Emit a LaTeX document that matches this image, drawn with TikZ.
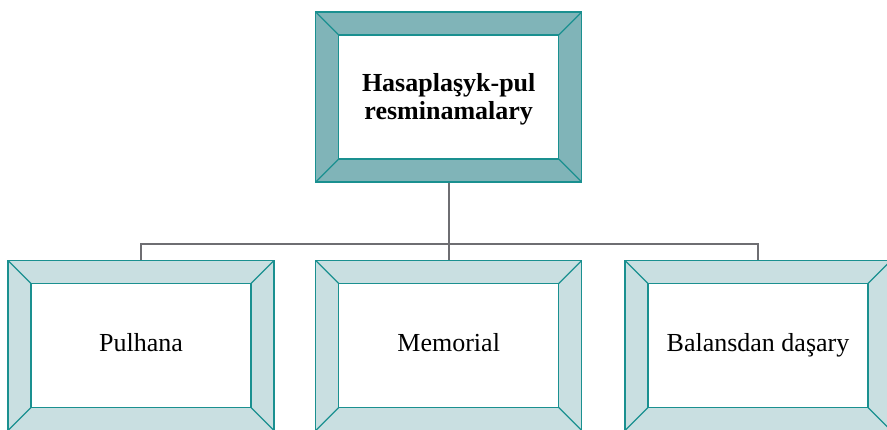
\documentclass[tikz,border=0pt]{standalone}
\usepackage{fontspec}
\setmainfont{Liberation Serif}
\begin{document}
\begin{tikzpicture}[x=1pt,y=-1pt]
\definecolor{framedark}{HTML}{80B4B8}
\definecolor{framelight}{HTML}{C9DFE1}
\definecolor{frameline}{HTML}{1A9090}
\definecolor{linkgray}{HTML}{6E6E72}
\tikzset{
  bevelbox/.style={draw=frameline, line width=1.3pt, fill=#1,
    minimum width=266pt, minimum height=170pt, inner sep=0pt, align=center,
    font=\fontsize{26}{28}\selectfont,
    path picture={
      \fill[white] ([shift={(23pt,-23pt)}]path picture bounding box.north west)
        rectangle ([shift={(-23pt,23pt)}]path picture bounding box.south east);
      \draw[frameline, line width=1.3pt]
        ([shift={(23pt,-23pt)}]path picture bounding box.north west)
        rectangle ([shift={(-23pt,23pt)}]path picture bounding box.south east);
      \draw[frameline, line width=1.2pt]
        (path picture bounding box.north west) -- ++(23pt,-23pt)
        (path picture bounding box.north east) -- ++(-23pt,-23pt)
        (path picture bounding box.south west) -- ++(23pt,23pt)
        (path picture bounding box.south east) -- ++(-23pt,23pt);
    }},
  link/.style={draw=linkgray, line width=2pt}
}
\newcommand{\boxstrut}{\rule[-6pt]{0pt}{21pt}}
\useasboundingbox (0,0) rectangle (887,429);
\node[bevelbox=framedark] (top) at (448.7,97) {\rule{0pt}{23pt}\textbf{Hasaplaşyk-pul}\\\textbf{resminamalary}};
\node[bevelbox=framelight] (left) at (141,345.5) {\boxstrut Pulhana};
\node[bevelbox=framelight] (mid) at (448.7,345.5) {\boxstrut Memorial};
\node[bevelbox=framelight] (right) at (758,345.5) {\boxstrut Balansdan daşary};
\coordinate (bus) at (448.7,244);
\draw[link] (top.south) -- (mid.north);
\draw[link] (left.north) |- (bus) -| (right.north);
\end{tikzpicture}
\end{document}
